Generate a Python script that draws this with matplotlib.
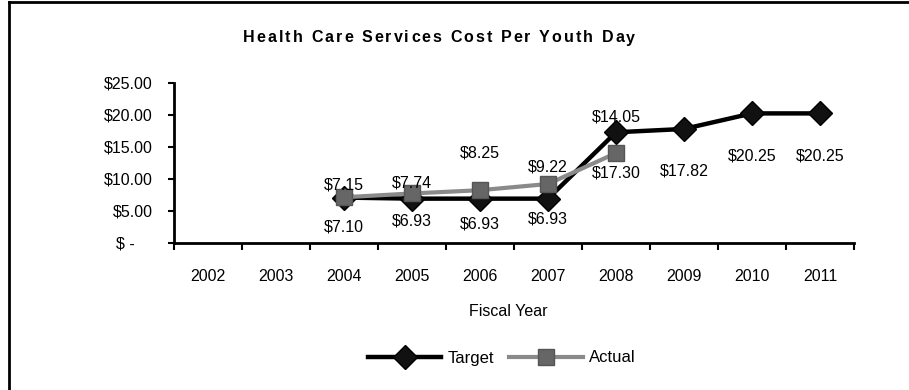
import matplotlib.pyplot as plt
from matplotlib.lines import Line2D

plt.rcParams['font.family'] = ['Liberation Sans', 'DejaVu Sans']

# data
years = ['2002', '2003', '2004', '2005', '2006', '2007', '2008', '2009', '2010', '2011']
target_years = ['2004', '2005', '2006', '2007', '2008', '2009', '2010', '2011']
target = [7.10, 6.93, 6.93, 6.93, 17.30, 17.82, 20.25, 20.25]
actual_years = ['2004', '2005', '2006', '2007', '2008']
actual = [7.15, 7.74, 8.25, 9.22, 14.05]
yticks = [0, 5, 10, 15, 20, 25]
ytick_labels = ['$ -    ', '$5.00', '$10.00', '$15.00', '$20.00', '$25.00']
title = 'Health Care Services Cost Per Youth Day'

# label offsets in pixels (Excel-style placement)
target_offsets = [-29, -22, -25, -20, -41, -42, -43, -43]
actual_offsets = [12, 10, 37, 17, 36]

fig = plt.figure(figsize=(9.09, 3.9), dpi=100)
ax = fig.add_axes([174 / 909, 147 / 390, 680 / 909, 160 / 390])

xt = [years.index(y) for y in target_years]
xa = [years.index(y) for y in actual_years]

ax.plot(xt, target, color='black', lw=3.2, marker='D', markersize=12.5,
        markerfacecolor='#111111', markeredgecolor='black', label='Target', zorder=3)
ax.plot(xa, actual, color='#8a8a8a', lw=3, marker='s', markersize=12,
        markerfacecolor='#666666', markeredgecolor='#555555', label='Actual', zorder=4)

for x, v, off in zip(xt, target, target_offsets):
    ax.annotate(f'${v:.2f}', (x, v), xytext=(0, off), textcoords='offset pixels',
                ha='center', va='center', fontsize=11.5, zorder=5)
for x, v, off in zip(xa, actual, actual_offsets):
    ax.annotate(f'${v:.2f}', (x, v), xytext=(0, off), textcoords='offset pixels',
                ha='center', va='center', fontsize=11.5, zorder=5)

ax.set_xlim(-0.5, len(years) - 0.5)
ax.set_ylim(0, 25)
ax.set_yticks(yticks)
ax.set_yticklabels(ytick_labels, fontsize=11.5)
ax.set_xticks([i - 0.5 for i in range(len(years) + 1)])
ax.set_xticklabels([])
ax.set_xticks(range(len(years)), years, minor=True, fontsize=11.5)
ax.tick_params(axis='x', which='major', length=5, width=1.5, direction='out')
ax.tick_params(axis='x', which='minor', length=0, pad=19)
ax.tick_params(axis='y', length=4.5, width=1.5, pad=11)

for s in ['top', 'right']:
    ax.spines[s].set_visible(False)
for s in ['left', 'bottom']:
    ax.spines[s].set_linewidth(2)

# letter-spaced title, drawn one character at a time
r = fig.canvas.get_renderer()
widths = []
for ch in title:
    t = fig.text(0, 0, ch if ch != ' ' else 'i', fontsize=11.5, fontweight='bold')
    widths.append(t.get_window_extent(r).width)
    t.remove()
x0, total = 243, 392
gap = (total - sum(widths)) / (len(title) - 1)
xpos = x0
for ch, w in zip(title, widths):
    fig.text(xpos / 909, 1 - 38 / 390, ch, ha='left', va='center',
             fontsize=11.5, fontweight='bold')
    xpos += w + gap

fig.text(508 / 909, 1 - 312 / 390, 'Fiscal Year', ha='center', va='center', fontsize=11.5)

fig.legend(loc='center', bbox_to_anchor=(502 / 909, 1 - 358 / 390), ncol=2,
           frameon=False, fontsize=12, handlelength=4.4, columnspacing=0.9,
           handletextpad=0.4)

# outer chart border (only top and left visible)
fig.add_artist(Line2D([9 / 909, 9 / 909], [0, 1 - 2 / 390], color='black', lw=2,
                      transform=fig.transFigure))
fig.add_artist(Line2D([9 / 909, 1], [1 - 2 / 390, 1 - 2 / 390], color='black', lw=2,
                      transform=fig.transFigure))

fig.savefig('out.png', dpi=100)
